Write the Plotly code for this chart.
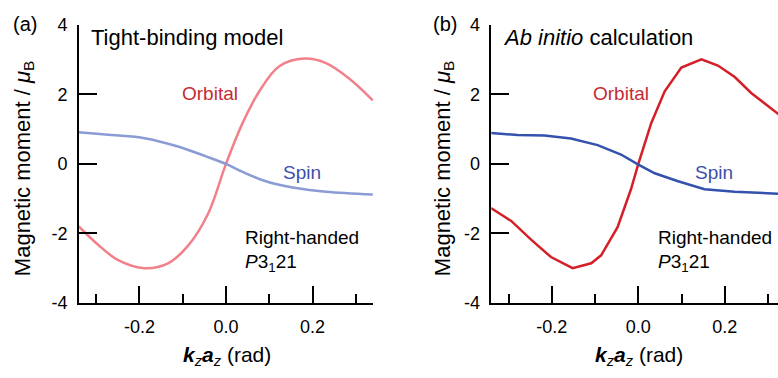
import plotly.graph_objects as go

W, H = 778, 378

# ---- data ----
tb_orb_x = [-0.34, -0.296, -0.249, -0.188, -0.134, -0.088, -0.042, 0.0, 0.0385, 0.077, 0.123, 0.181, 0.231, 0.285, 0.339]
tb_orb_y = [-1.80, -2.32, -2.77, -3.00, -2.86, -2.36, -1.45, 0.0, 1.18, 2.09, 2.81, 3.03, 2.90, 2.45, 1.83]
tb_spin_x = [-0.34, -0.265, -0.188, -0.111, -0.049, 0.0, 0.0385, 0.092, 0.154, 0.231, 0.339]
tb_spin_y = [0.91, 0.83, 0.74, 0.50, 0.23, 0.0, -0.23, -0.50, -0.68, -0.80, -0.88]

ai_orb_x = [-0.341, -0.294, -0.248, -0.202, -0.152, -0.109, -0.086, -0.048, -0.017, 0.0, 0.030, 0.061, 0.0995, 0.146, 0.184, 0.223, 0.261, 0.323, 0.34]
ai_orb_y = [-1.27, -1.64, -2.18, -2.68, -3.00, -2.86, -2.63, -1.82, -0.73, 0.0, 1.18, 2.09, 2.77, 3.01, 2.83, 2.50, 2.04, 1.45, 1.28]
ai_spin_x = [-0.341, -0.279, -0.217, -0.156, -0.094, -0.040, 0.0, 0.038, 0.092, 0.153, 0.223, 0.323, 0.34]
ai_spin_y = [0.89, 0.83, 0.82, 0.73, 0.54, 0.27, -0.02, -0.27, -0.50, -0.73, -0.80, -0.86, -0.87]

y_ticks = [-4, -2, 0, 2, 4]
y_tick_text = ["-4", "-2", "0", "2", "4"]
x_ticks = [-0.2, 0.0, 0.2]
x_tick_text = ["-0.2", "0.0", "0.2"]
x_minor = [-0.3, -0.1, 0.1, 0.3]

FONT = "Arial, Liberation Sans, sans-serif"

def px(x):
    return x / W

def py(y):
    return 1 - y / H

fig = go.Figure()
fig.add_trace(go.Scatter(x=tb_orb_x, y=tb_orb_y, mode="lines", line=dict(color="#f2808a", width=2.5, shape="spline", smoothing=1.0), xaxis="x", yaxis="y", showlegend=False))
fig.add_trace(go.Scatter(x=tb_spin_x, y=tb_spin_y, mode="lines", line=dict(color="#8a9bd6", width=2.5, shape="spline", smoothing=1.0), xaxis="x", yaxis="y", showlegend=False))
fig.add_trace(go.Scatter(x=ai_orb_x, y=ai_orb_y, mode="lines", line=dict(color="#d51f28", width=2.5), xaxis="x2", yaxis="y2", showlegend=False))
fig.add_trace(go.Scatter(x=ai_spin_x, y=ai_spin_y, mode="lines", line=dict(color="#3451ad", width=2.5), xaxis="x2", yaxis="y2", showlegend=False))

ydom = [py(309.3), py(15.7)]

def xaxis_cfg(dom, rng, anchor):
    return dict(domain=dom, range=rng, anchor=anchor, showgrid=False, zeroline=False,
                showline=True, linecolor="black", linewidth=1.5,
                tickmode="array", tickvals=x_ticks, ticktext=x_tick_text,
                ticks="inside", ticklen=17, tickwidth=1.5, tickcolor="black",
                minor=dict(ticks="inside", ticklen=9, tickwidth=1.5, tickcolor="black", tickmode="array", tickvals=x_minor),
                tickfont=dict(family=FONT, size=18, color="black"), ticklabelstandoff=7)

def yaxis_cfg(anchor):
    return dict(domain=ydom, range=[-4, 4], anchor=anchor, showgrid=False, zeroline=False,
                showline=True, linecolor="black", linewidth=1.5,
                tickmode="array", tickvals=y_ticks, ticktext=y_tick_text,
                ticks="inside", ticklen=18, tickwidth=1.5, tickcolor="black",
                tickfont=dict(family=FONT, size=18, color="black"), ticklabelstandoff=6)

fig.update_layout(
    width=W, height=H, autosize=False,
    margin=dict(l=0, r=0, t=0, b=0),
    paper_bgcolor="white", plot_bgcolor="white",
    xaxis=xaxis_cfg([px(78.8), px(373.2)], [-0.34, 0.34], "y"),
    yaxis=yaxis_cfg("x"),
    xaxis2=xaxis_cfg([px(491.3), 1.0], [-0.34, 0.323], "y2"),
    yaxis2=yaxis_cfg("x2"),
)

def ann(text, x, y, size, color="black", xanchor="left", angle=0):
    fig.add_annotation(text=text, x=px(x), y=py(y), xref="paper", yref="paper",
                       xanchor=xanchor, yanchor="middle", showarrow=False, textangle=angle,
                       font=dict(family=FONT, size=size, color=color))

orb_c = "#c62a33"
spin_c = "#3e50a8"

ann("Tight-binding model", 88.5, 29, 22)
ann("<i>Ab initio</i> calculation", 501.3, 29, 22)
ann("(a)", 25, 15, 20, xanchor="center")
ann("(b)", 445, 15, 20, xanchor="center")
ann("Orbital", 179.7, 88, 19, orb_c)
ann("Spin", 281, 172, 19, spin_c)
ann("Right-handed", 242.7, 240, 19)
ann("<i>P</i>3<sub>1</sub>21", 242.7, 267, 19)
ann("Orbital", 591.3, 88, 19, orb_c)
ann("Spin", 692.7, 172, 19, spin_c)
ann("Right-handed", 656.3, 240, 19)
ann("<i>P</i>3<sub>1</sub>21", 656.3, 267, 19)

ytitle = "Magnetic moment / <i>μ</i><sub>B</sub>"
ann(ytitle, 24, 167, 22, xanchor="center", angle=-90)
ann(ytitle, 444, 167, 22, xanchor="center", angle=-90)
xtitle = "<b><i>k</i></b><sub><i>z</i></sub><b><i>a</i></b><sub><i>z</i></sub> (rad)"
ann(xtitle, 226.5, 365, 21, xanchor="center")
ann(xtitle, 638.5, 365, 21, xanchor="center")

fig.write_html("out.html")
